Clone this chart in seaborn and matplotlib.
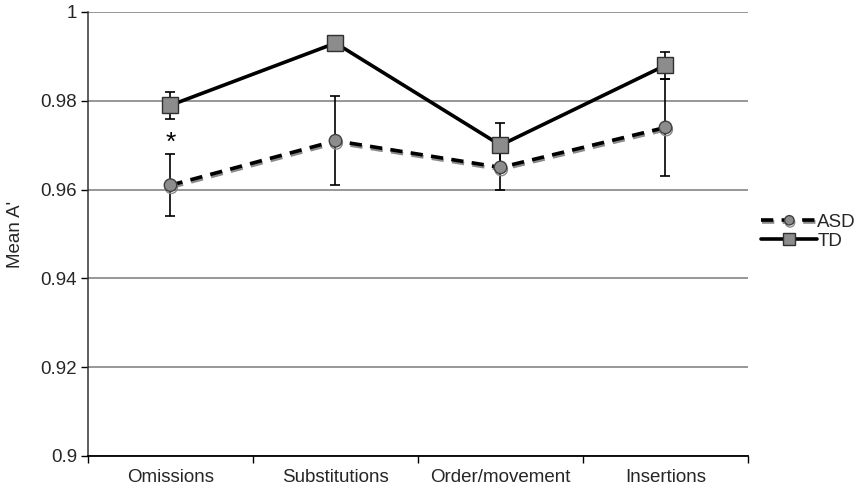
import matplotlib
matplotlib.use("Agg")
import matplotlib.pyplot as plt
import matplotlib.patheffects as pe
import seaborn as sns
import pandas as pd
import numpy as np

categories = ["Omissions", "Substitutions", "Order/movement", "Insertions"]
asd_mean = [0.961, 0.971, 0.965, 0.974]
asd_err = [0.007, 0.010, 0.005, 0.011]
td_mean = [0.979, 0.993, 0.970, 0.988]
td_err = [0.003, 0.0016, 0.005, 0.003]
yticks = [0.9, 0.92, 0.94, 0.96, 0.98, 1.0]
yticklabels = ["0.9", "0.92", "0.94", "0.96", "0.98", "1"]

sns.set_theme(style="white")
plt.rcParams["font.family"] = ["Liberation Sans", "DejaVu Sans"]

fig = plt.figure(figsize=(8.62, 4.93), dpi=100)
ax = fig.add_axes([88/862, 37/493, 660/862, 444/493])

x = np.arange(len(categories))
df_asd = pd.DataFrame({"x": x, "y": asd_mean})
df_td = pd.DataFrame({"x": x, "y": td_mean})

# error bars
ax.errorbar(x, asd_mean, yerr=asd_err, fmt="none", ecolor="black",
            elinewidth=1.2, capsize=3.5, capthick=1.2, zorder=3)
ax.errorbar(x, td_mean, yerr=td_err, fmt="none", ecolor="black",
            elinewidth=1.2, capsize=3.5, capthick=1.2, zorder=3)

sns.lineplot(data=df_asd, x="x", y="y", ax=ax, color="black", linewidth=2.6,
             linestyle=(0, (3.4, 2.3)), marker="o", markersize=9,
             markerfacecolor="#8c8c8c", markeredgecolor="#404040", markeredgewidth=1,
             label="ASD", zorder=4,
             path_effects=[pe.SimpleLineShadow(offset=(0.5, -1.5), shadow_color="#8a8a8a", alpha=1.0),
                           pe.Normal()])
sns.lineplot(data=df_td, x="x", y="y", ax=ax, color="black", linewidth=2.6,
             marker="s", markersize=11,
             markerfacecolor="#8c8c8c", markeredgecolor="#303030", markeredgewidth=1,
             label="TD", zorder=5)

ax.text(x[0], 0.9705, "*", ha="center", va="center", fontsize=19, color="black")

ax.set_xlim(-0.5, 3.5)
ax.set_ylim(0.9, 1.0)
ax.set_yticks(yticks)
ax.set_yticklabels(yticklabels, fontsize=13.5)
ax.set_xticks(x)
ax.set_xticklabels(categories, fontsize=13.5)
ax.set_xticks([-0.5, 0.5, 1.5, 2.5, 3.5], minor=True)
ax.tick_params(axis="x", which="major", length=0, pad=9)
ax.tick_params(axis="x", which="minor", length=5, width=1, color="black", direction="out", bottom=True)
ax.tick_params(axis="y", length=5, width=1, color="black", direction="out", left=True, pad=3)
ax.set_xlabel("")
ax.set_ylabel("Mean A'", fontsize=13.5, labelpad=12)

ax.yaxis.grid(True, color="#7a7a7a", linewidth=1.1)
ax.set_axisbelow(True)
for s in ["top", "right"]:
    ax.spines[s].set_visible(False)
ax.spines["left"].set_color("#333333")
ax.spines["bottom"].set_color("black")
ax.spines["left"].set_linewidth(1.1)
ax.spines["bottom"].set_linewidth(1.3)

leg = ax.legend(loc="center left", bbox_to_anchor=(1.02, 0.505), frameon=False,
                fontsize=13.5, handlelength=3.0, handletextpad=0.0, borderpad=0,
                borderaxespad=0, labelspacing=0.1, markerscale=0.75)

fig.savefig("out.png", dpi=100)
